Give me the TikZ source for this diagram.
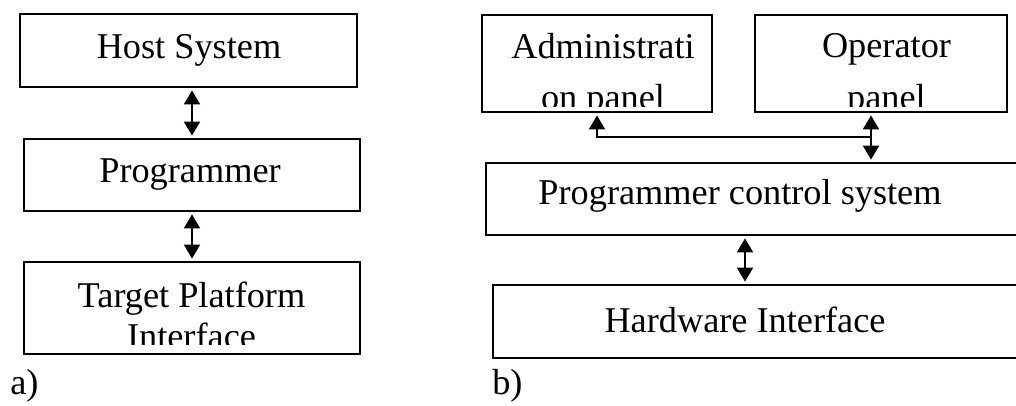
\documentclass[tikz,border=0pt]{standalone}
\usepackage{fontspec}
\setmainfont{Liberation Serif}
\usetikzlibrary{arrows.meta, positioning}

\begin{document}
\begin{tikzpicture}[x=0.025cm, y=-0.025cm,
    cut/.store in=\cutinset, cut=0.15cm,
    block/.style={rectangle, draw, line width=1.4pt, inner sep=0pt},
    lines/.style={path picture={\clip ([yshift=\cutinset]path picture bounding box.south west) rectangle (path picture bounding box.north east); #1}},
    txt/.style={font=\fontsize{25.8}{31}\selectfont, inner sep=0pt, anchor=base},
    link/.style={line width=1.4pt, {Triangle[width=0.4cm,length=0.35cm]}-{Triangle[width=0.4cm,length=0.35cm]}, shorten <=0.06cm, shorten >=0.06cm},
    oneway/.style={line width=1.4pt, -{Triangle[width=0.4cm,length=0.35cm]}, shorten >=0.06cm}]
    \useasboundingbox[fill=white] (0,0) rectangle (1016,406);

    % Nodes (a)
    \node (Host) [block, minimum width=8.425cm, minimum height=1.825cm,
        lines={\node[txt] at ([shift={(0.5,8.5)}]path picture bounding box.center) {Host System};}] at (188.5,50.5) {};
    \node (Programmer) [block, minimum width=8.4cm, minimum height=1.8cm,
        lines={\node[txt] at ([shift={(-2,8)}]path picture bounding box.center) {Programmer};}] at (192,175) {};
    \node (Target) [block, minimum width=8.4cm, minimum height=2.3cm, cut=0.25cm,
        lines={\node[txt] at ([shift={(-0.5,-1)}]path picture bounding box.center) {Target Platform};
               \node[txt] at ([shift={(-0.5,40)}]path picture bounding box.center) {Interface};}] at (192,308) {};
    \node (LabelA) [txt, anchor=base west] at (10,394) {a)};

    % Nodes (b)
    \node (Admin) [block, minimum width=5.75cm, minimum height=2.425cm,
        lines={\node[txt] at ([shift={(6,-4.5)}]path picture bounding box.center) {Administrati};
               \node[txt] at ([shift={(6,46.5)}]path picture bounding box.center) {on panel};}] at (597,63.5) {};
    \node (Operator) [block, minimum width=6.3cm, minimum height=2.425cm,
        lines={\node[txt] at ([shift={(5.5,-5.5)}]path picture bounding box.center) {Operator};
               \node[txt] at ([shift={(5.5,46.5)}]path picture bounding box.center) {panel};}] at (881,63.5) {};
    \node (Control) [block, minimum width=13.6cm, minimum height=1.8cm,
        lines={\node[txt] at ([shift={(-18,6)}]path picture bounding box.center) {Programmer control system};}] at (758,199) {};
    \node (Hardware) [block, minimum width=13.425cm, minimum height=1.825cm,
        lines={\node[txt] at ([shift={(-16.5,10.5)}]path picture bounding box.center) {Hardware Interface};}] at (761.5,321.5) {};
    \node (LabelB) [txt, anchor=base west] at (492,394) {b)};

    % Edges
    \draw[link] (Host.south -| Programmer.north) -- (Programmer.north);
    \draw[link] (Programmer.south) -- (Target.north);
    \coordinate (Split) at (871,137);
    \draw[link] (Operator.south -| Split) -- (Control.north -| Split);
    \draw[oneway] (Split) -| (Admin.south);
    \coordinate (HwLink) at (745,0);
    \draw[link] (Control.south -| HwLink) -- (Hardware.north -| HwLink);
\end{tikzpicture}
\end{document}
